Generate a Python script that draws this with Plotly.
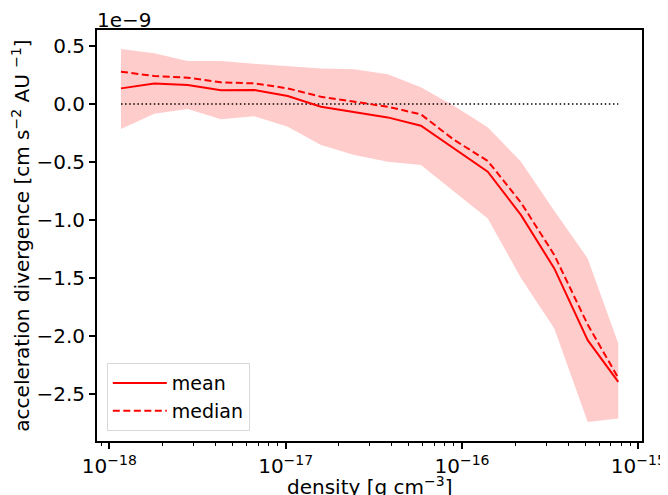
import plotly.graph_objects as go

# density bin centres [g cm^-3]
density = [1.164e-18, 1.799e-18, 2.780e-18, 4.295e-18, 6.637e-18, 1.028e-17,
           1.585e-17, 2.449e-17, 3.793e-17, 5.853e-17, 9.036e-17, 1.400e-16,
           2.163e-16, 3.338e-16, 5.164e-16, 7.700e-16]
# acceleration divergence in units of 1e-9
mean_vals = [0.135, 0.178, 0.164, 0.118, 0.121, 0.069, -0.023, -0.066, -0.115,
             -0.187, -0.388, -0.583, -0.957, -1.416, -2.034, -2.394]
median_vals = [0.279, 0.241, 0.227, 0.187, 0.178, 0.135, 0.063, 0.020, -0.023,
               -0.089, -0.310, -0.490, -0.850, -1.300, -1.900, -2.360]
upper_vals = [0.474, 0.437, 0.371, 0.371, 0.348, 0.330, 0.307, 0.300, 0.256,
              0.144, -0.017, -0.200, -0.497, -0.920, -1.330, -2.063]
lower_vals = [-0.216, -0.083, -0.043, -0.132, -0.106, -0.195, -0.353, -0.440, -0.497,
              -0.526, -0.756, -0.986, -1.500, -1.934, -2.739, -2.710]

xtick_vals = [1e-18, 1e-17, 1e-16, 1e-15]
xtick_text = ["10<sup>−18</sup>", "10<sup>−17</sup>", "10<sup>−16</sup>", "10<sup>−15</sup>"]
ytick_vals = [-2.5, -2.0, -1.5, -1.0, -0.5, 0.0, 0.5]
ytick_text = ["−2.5", "−2.0", "−1.5", "−1.0", "−0.5", "0.0", "0.5"]

FONT = "DejaVu Sans"
FS = 20

fig = go.Figure()
fig.add_trace(go.Scatter(x=density, y=upper_vals, mode="lines", line=dict(width=0),
                         showlegend=False, hoverinfo="skip"))
fig.add_trace(go.Scatter(x=density, y=lower_vals, mode="lines", line=dict(width=0),
                         fill="tonexty", fillcolor="rgba(255,0,0,0.2)",
                         showlegend=False, hoverinfo="skip"))
fig.add_trace(go.Scatter(x=[density[0], density[-1]], y=[0, 0], mode="lines",
                         line=dict(color="black", width=1.6, dash="1.5px,2.6px"),
                         showlegend=False))
fig.add_trace(go.Scatter(x=density, y=mean_vals, mode="lines", name="mean",
                         line=dict(color="red", width=2)))
fig.add_trace(go.Scatter(x=density, y=median_vals, mode="lines", name="median",
                         line=dict(color="red", width=2, dash="7px,3.5px")))

# the page body adds an 8px offset, margins compensate for it
fig.update_layout(
    width=660, height=487,
    margin=dict(l=89, r=26, t=22, b=54),
    paper_bgcolor="white", plot_bgcolor="white",
    font=dict(family=FONT, size=FS, color="black"),
    showlegend=True,
    legend=dict(x=0.018, y=0.024, xanchor="left", yanchor="bottom",
                bgcolor="white", bordercolor="#d8d8d8", borderwidth=1,
                font=dict(family=FONT, size=19, color="black"),
                traceorder="normal", tracegroupgap=0, itemwidth=54),
    annotations=[
        dict(text="1e−9", xref="paper", yref="paper", x=0, y=1,
             xanchor="left", yanchor="bottom", showarrow=False,
             font=dict(family=FONT, size=FS, color="black"),
             xshift=-2, yshift=-4),
        dict(text="density [g cm<sup>−3</sup>]", xref="paper", yref="paper",
             x=0.5, y=0, xanchor="center", yanchor="top", showarrow=False,
             font=dict(family=FONT, size=FS, color="black"), yshift=-30),
    ],
)
fig.update_xaxes(
    type="log", range=[-18.07, -14.979], automargin=False,
    tickvals=xtick_vals, ticktext=xtick_text,
    tickfont=dict(family=FONT, size=FS, color="black"),
    ticks="outside", ticklen=6, tickwidth=1.5, tickcolor="black",
    minor=dict(ticks="outside", ticklen=3, tickwidth=1, tickcolor="black",
               dtick="D1", showgrid=False),
    showline=True, linecolor="black", linewidth=2, mirror=True,
    showgrid=False, zeroline=False,
)
fig.update_yaxes(
    range=[-2.903, 0.638], automargin=False,
    tickvals=ytick_vals, ticktext=ytick_text,
    tickfont=dict(family=FONT, size=FS, color="black"),
    ticks="outside", ticklen=6, tickwidth=1.5, tickcolor="black",
    showline=True, linecolor="black", linewidth=2, mirror=True,
    showgrid=False, zeroline=False,
    title=dict(text="acceleration divergence [cm s<sup>−2</sup> AU <sup>−1</sup>]", standoff=5,
               font=dict(family=FONT, size=FS, color="black")),
)

fig.write_html("out.html")
